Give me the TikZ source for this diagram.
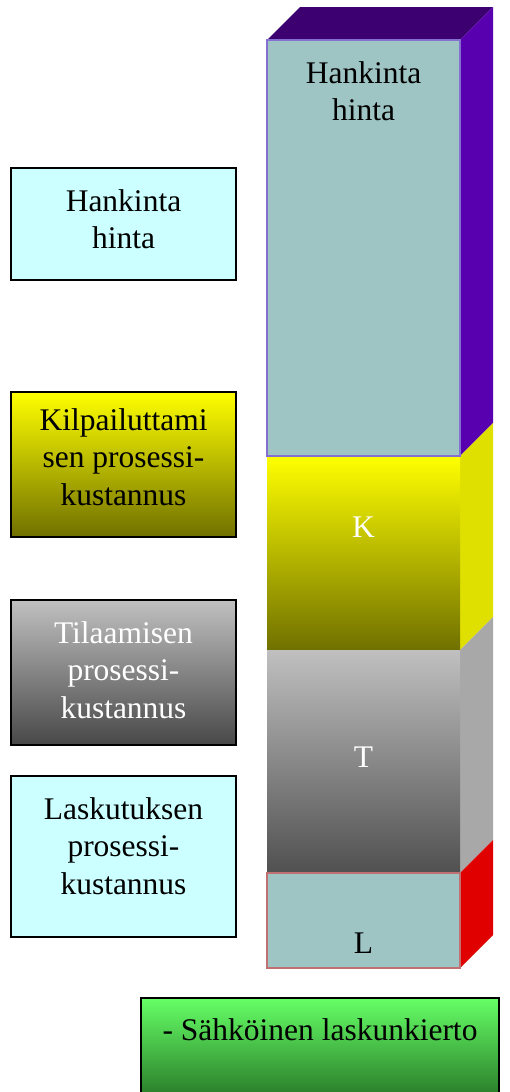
\documentclass[tikz,border=0pt]{standalone}
\usepackage{fontspec}
\setmainfont{Liberation Serif}
\begin{document}
\begin{tikzpicture}[x=1pt,y=-1pt,
  txt/.style={align=center,font=\fontsize{31.5}{37.5}\selectfont,inner sep=0pt},
  lbox/.style={draw=black,line width=1.2pt,inner sep=0pt,minimum width=225pt},
  front/.style={inner sep=0pt,minimum width=193pt,line width=1.2pt},
]
\definecolor{teal1}{HTML}{9EC4C4}
\definecolor{purpb}{HTML}{8470D0}
\definecolor{ptop}{HTML}{3C0070}
\definecolor{pside}{HTML}{5800B0}
\definecolor{ktop}{HTML}{FFFF00}
\definecolor{kbot}{HTML}{707000}
\definecolor{kside}{HTML}{E0E000}
\definecolor{ttop}{HTML}{C0C0C0}
\definecolor{tbot}{HTML}{505050}
\definecolor{tside}{HTML}{A8A8A8}
\definecolor{lbord}{HTML}{C07070}
\definecolor{lside}{HTML}{E00000}
\definecolor{lcyan}{HTML}{CCFFFF}
\definecolor{gtop}{HTML}{66FF66}
\definecolor{gmid}{HTML}{52D852}
\definecolor{gbot}{HTML}{2A7E2A}
\useasboundingbox (0,0) rectangle (509,1092);
\clip (0,0) rectangle (509,1092);
\fill[white] (0,0) rectangle (509,1092);

% 3D stack: top and side faces
\fill[ptop] (267,40) -- (300,7) -- (493,7) -- (460,40) -- cycle;
\fill[pside] (460,40) -- (493,7) -- (493,423) -- (460,456) -- cycle;
\fill[kside] (460,456) -- (493,423) -- (493,617) -- (460,650) -- cycle;
\fill[tside] (460,650) -- (493,617) -- (493,840) -- (460,873) -- cycle;
\fill[lside] (460,873) -- (493,840) -- (493,935) -- (460,968) -- cycle;

% front faces
\node[front,top color=ktop,bottom color=kbot,minimum height=194pt] (fK) at (363.5,553) {};
\node[front,top color=ttop,bottom color=tbot,minimum height=223pt] (fT) at (363.5,761.5) {};
\node[front,fill=teal1,draw=purpb,minimum height=416pt] (fH) at (363.5,248) {};
\node[front,fill=teal1,draw=lbord,minimum height=95pt] (fL) at (363.5,920.5) {};
\node[txt] (tH) at (363.5,91) {Hankinta\\hinta};
\node[txt,text=white] (tK) at (363.5,527) {K};
\node[txt,text=white] (tT) at (363.5,757) {T};
\node[txt] (tL) at (363.5,943) {L};

% left boxes
\node[lbox,fill=lcyan,minimum height=112pt] (bH) at (123.5,224) {};
\node[txt] (bHt) at (123.5,219) {Hankinta\\hinta};
\node[lbox,top color=ktop,bottom color=kbot,minimum height=145pt] (bK) at (123.5,464.5) {};
\node[txt] (bKt) at (123.5,457) {Kilpailuttami\\sen prosessi-\\kustannus};
\node[lbox,top color=ttop,bottom color=tbot!90!black,minimum height=145pt] (bT) at (123.5,672.5) {};
\node[txt,text=white] (bTt) at (123.5,670) {Tilaamisen\\prosessi-\\kustannus};
\node[lbox,fill=lcyan,minimum height=161pt] (bL) at (123.5,856.5) {};
\node[txt] (bLt) at (123.5,846) {Laskutuksen\\prosessi-\\kustannus};

% green box
\node[lbox,top color=gtop,middle color=gmid,bottom color=gbot,minimum width=358pt,minimum height=97pt] (bG) at (320,1046.5) {};
\node[txt] (bGt) at (320,1030) {- Sähköinen laskunkierto};
\end{tikzpicture}
\end{document}
